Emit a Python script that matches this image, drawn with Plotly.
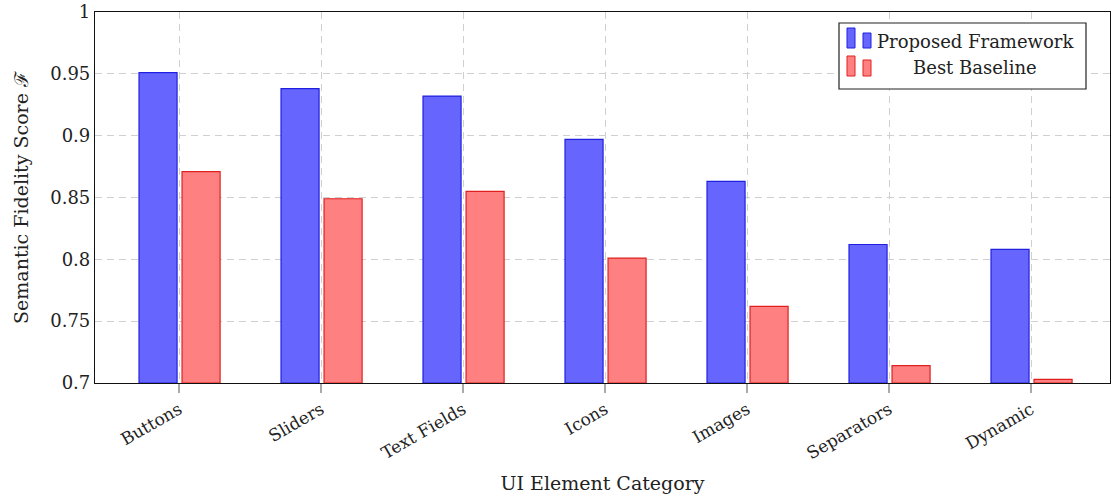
import plotly.graph_objects as go

categories = ["Buttons", "Sliders", "Text Fields", "Icons", "Images", "Separators", "Dynamic"]
proposed = [0.951, 0.938, 0.932, 0.897, 0.863, 0.812, 0.808]
baseline = [0.871, 0.849, 0.855, 0.801, 0.762, 0.714, 0.703]
y_ticks = [0.7, 0.75, 0.8, 0.85, 0.9, 0.95, 1.0]
y_tick_labels = ["0.7", "0.75", "0.8", "0.85", "0.9", "0.95", "1"]
series_names = ["Proposed Framework", "Best Baseline"]

FONT = "DejaVu Serif, Liberation Serif, serif"
BASE = 0.7
W, H = 1111, 499
L, R, T, B = 95, 1, 12, 116

BLUE_FILL, BLUE_EDGE = "#6666ff", "#2020e0"
RED_FILL, RED_EDGE = "#ff8080", "#e02020"

x_pos = list(range(len(categories)))

fig = go.Figure()
fig.add_trace(go.Bar(
    x=x_pos, y=[v - BASE for v in proposed], base=BASE, name=series_names[0],
    width=0.268, offset=-0.282, showlegend=False,
    marker=dict(color=BLUE_FILL, line=dict(color=BLUE_EDGE, width=1.2)),
))
fig.add_trace(go.Bar(
    x=x_pos, y=[v - BASE for v in baseline], base=BASE, name=series_names[1],
    width=0.268, offset=0.021, showlegend=False,
    marker=dict(color=RED_FILL, line=dict(color=RED_EDGE, width=1.2)),
))

# pixel -> paper helpers for the hand-built legend box
pw, ph = W - L - R, H - T - B
def px(x):
    return (x - L) / pw
def py(y):
    return (H - B - y) / ph

shapes = [dict(type="rect", xref="paper", yref="paper",
               x0=px(839), x1=px(1086), y0=py(89), y1=py(23),
               line=dict(color="#222", width=1.2), fillcolor="white", layer="above")]
annotations = []
rows = [(BLUE_FILL, BLUE_EDGE, 28, 48, 33, 42), (RED_FILL, RED_EDGE, 56, 76, 60, 68)]
for name, (fill, edge, tall_top, bottom, short_top, ymid) in zip(series_names, rows):
    shapes.append(dict(type="rect", xref="paper", yref="paper",
                       x0=px(847), x1=px(855), y0=py(bottom), y1=py(tall_top),
                       line=dict(color=edge, width=1), fillcolor=fill, layer="above"))
    shapes.append(dict(type="rect", xref="paper", yref="paper",
                       x0=px(863), x1=px(871), y0=py(bottom), y1=py(short_top),
                       line=dict(color=edge, width=1), fillcolor=fill, layer="above"))
    annotations.append(dict(text=name, xref="paper", yref="paper",
                            x=px(975), y=py(ymid), xanchor="center", yanchor="middle",
                            showarrow=False, font=dict(family=FONT, size=18, color="#222")))

fig.update_layout(
    width=W, height=H,
    margin=dict(l=L, r=R, t=T, b=B),
    paper_bgcolor="white", plot_bgcolor="white",
    font=dict(family=FONT, size=17, color="#222"),
    barmode="overlay",
    shapes=shapes, annotations=annotations,
    xaxis=dict(
        range=[-0.592, 6.556],
        tickvals=x_pos, ticktext=categories, tickangle=-30,
        ticks="outside", ticklen=9, tickcolor="#aaa", tickwidth=1.5,
        showgrid=True, gridcolor="#d0d0d0", griddash="7px,5px", gridwidth=1,
        showline=True, linecolor="#111", linewidth=1.2, mirror=True,
        zeroline=False,
        title=dict(text="UI Element Category", font=dict(family=FONT, size=19), standoff=14),
        tickfont=dict(family=FONT, size=17),
    ),
    yaxis=dict(
        range=[0.7, 1.0],
        tickvals=y_ticks, ticktext=y_tick_labels,
        ticks="", showgrid=True, gridcolor="#d0d0d0", griddash="7px,5px", gridwidth=1,
        showline=True, linecolor="#111", linewidth=1.2, mirror=True,
        zeroline=False,
        title=dict(text="Semantic Fidelity Score ℱ", font=dict(family=FONT, size=19), standoff=16),
        tickfont=dict(family=FONT, size=18),
    ),
)

fig.write_html("out.html")
